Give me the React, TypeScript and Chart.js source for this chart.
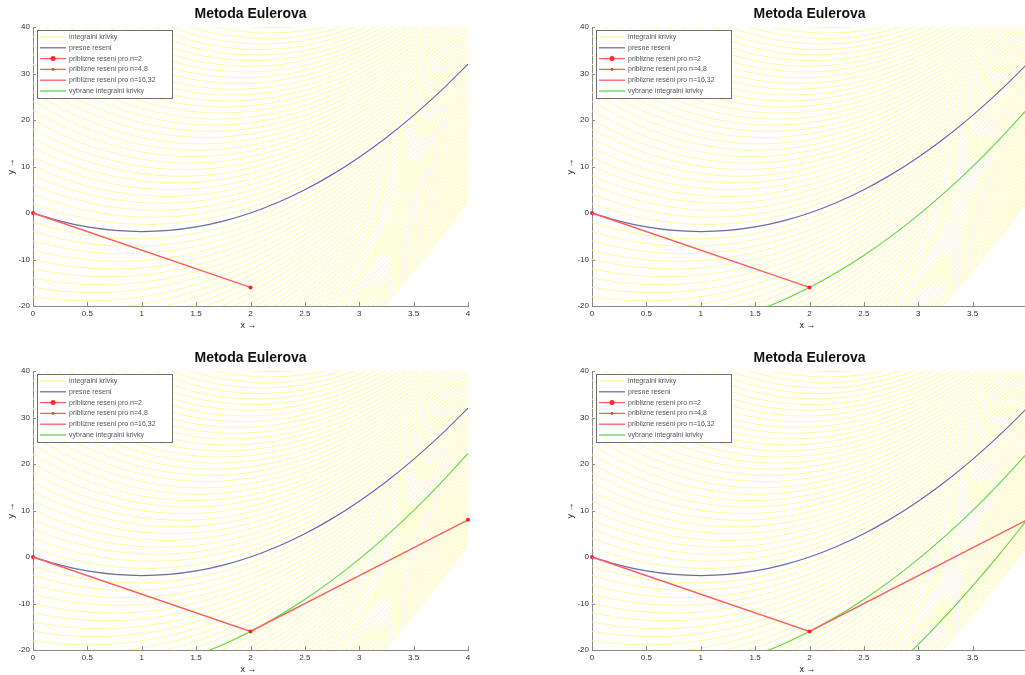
import React, { useEffect, useRef } from "react";
import { Chart, registerables } from "chart.js";

Chart.register(...registerables);

// Sample abscissae shared by every curve
const xGrid = [0, 0.25, 0.5, 0.75, 1, 1.25, 1.5, 1.75, 2, 2.25, 2.5, 2.75, 3, 3.25, 3.5, 3.75, 4];
// Exact solution through (0, 0)
const exactY = [0, -1.75, -3, -3.75, -4, -3.75, -3, -1.75, 0, 2.25, 5, 8.25, 12, 16.25, 21, 26.25, 32];
// How much of an initial offset at x = 0 is still left at each sample
const offsetCarry = [1, 0.939, 0.882, 0.829, 0.779, 0.732, 0.687, 0.646, 0.607, 0.570, 0.535, 0.503, 0.472, 0.444, 0.417, 0.392, 0.368];
// Starting values (at x = 0) of the yellow family of integral curves
const fieldStarts = [
  -80, -78, -76, -74, -72, -70, -68, -66, -64, -62, -60, -58, -56, -54, -52, -50, -48, -46, -44, -42,
  -40, -38, -36, -34, -32, -30, -28, -26, -24, -22, -20, -18, -16, -14, -12, -10, -8, -6, -4, -2,
  0, 2, 4, 6, 8, 10, 12, 14, 16, 18, 20, 22, 24, 26, 28, 30, 32, 34, 36, 38,
  40, 42, 44, 46, 48, 50, 52, 54, 56, 58, 60, 62, 64, 66, 68, 70, 72, 74, 76, 78,
  80, 82, 84, 86, 88, 90, 92, 94, 96, 98, 100,
];
// Starting values of the highlighted integral curves (through the Euler nodes)
const pickedStarts = [-26.4, -65.2];
// Euler nodes for n = 2
const eulerX = [0, 2, 4];
const eulerY = [0, -16, 8];
// Axis ticks
const xTicks = [0, 0.5, 1, 1.5, 2, 2.5, 3, 3.5, 4];
const yTicks = [-20, -10, 0, 10, 20, 30, 40];
const xLabels = ["0", "0.5", "1", "1.5", "2", "2.5", "3", "3.5", "4"];
const yLabels = ["-20", "-10", "0", "10", "20", "30", "40"];
const titleText = "Metoda Eulerova";
const xTitle = "x \u2192";
const yTitle = "y \u2192";
const legendLabels = [
  "integralni krivky",
  "presne reseni",
  "priblizne reseni pro n=2",
  "priblizne reseni pro n=4,8",
  "priblizne reseni pro n=16,32",
  "vybrane integralni krivky",
];

// Which Euler nodes / highlighted curves each panel shows
const panelEulerCount = [2, 2, 3, 3];
const panelPickedCount = [0, 1, 1, 2];

const YELLOW = "#fff88e";
const EXACT = "#6c6ca6";
const RED = "#ff5f5f";
const GREEN = "#5ed84a";
const AXIS = "#8a8a8a";
const FONT = "'Liberation Sans', Arial, Helvetica, sans-serif";

const CW = 560;
const CH = 344;

const curve = (start: number) =>
  xGrid.map((x, i) => ({ x, y: exactY[i] + start * offsetCarry[i] }));

const legendStyles = [
  { color: YELLOW, marker: 0 },
  { color: EXACT, marker: 0 },
  { color: RED, marker: 2.5 },
  { color: RED, marker: 1.3 },
  { color: RED, marker: 0 },
  { color: GREEN, marker: 0 },
];

const decorPlugin = {
  id: "decor",
  afterDatasetsDraw(chart: any) {
    const { ctx, chartArea: a, scales } = chart;
    ctx.save();
    // inward tick marks
    ctx.strokeStyle = AXIS;
    ctx.lineWidth = 1;
    ctx.beginPath();
    xTicks.forEach((v) => {
      const px = Math.round(scales.x.getPixelForValue(v)) + 0.5;
      ctx.moveTo(px, a.bottom);
      ctx.lineTo(px, a.bottom - 4);
    });
    yTicks.forEach((v) => {
      const py = Math.round(scales.y.getPixelForValue(v)) + 0.5;
      ctx.moveTo(a.left, py);
      ctx.lineTo(a.left + 3, py);
    });
    ctx.stroke();

    // legend box
    const bx = a.left + 4;
    const by = a.top + 3;
    const bw = 135;
    const bh = 68;
    ctx.fillStyle = "#ffffff";
    ctx.fillRect(bx, by, bw, bh);
    ctx.strokeStyle = "#6f6f6f";
    ctx.strokeRect(bx + 0.5, by + 0.5, bw, bh);
    ctx.font = `7px ${FONT}`;
    ctx.textBaseline = "middle";
    ctx.textAlign = "left";
    legendLabels.forEach((label, i) => {
      const cy = by + 7 + i * 10.8;
      const st = legendStyles[i];
      ctx.strokeStyle = st.color;
      ctx.lineWidth = 1.3;
      ctx.beginPath();
      ctx.moveTo(bx + 3, cy);
      ctx.lineTo(bx + 29, cy);
      ctx.stroke();
      if (st.marker > 0) {
        ctx.fillStyle = "#ff2a2a";
        ctx.beginPath();
        ctx.arc(bx + 16, cy, st.marker, 0, Math.PI * 2);
        ctx.fill();
      }
      ctx.fillStyle = "#555";
      ctx.fillText(label, bx + 32, cy);
    });
    ctx.restore();
  },
  afterDraw(chart: any) {
    const { ctx, chartArea: a } = chart;
    ctx.save();
    ctx.fillStyle = "#111";
    ctx.textAlign = "center";
    ctx.textBaseline = "middle";
    ctx.font = `bold 14px ${FONT}`;
    ctx.fillText(titleText, (a.left + a.right) / 2, a.top - 13);
    ctx.font = `9px ${FONT}`;
    ctx.fillStyle = "#222";
    ctx.fillText(xTitle, (a.left + a.right) / 2 - 2, a.bottom + 20);
    ctx.translate(12, (a.top + a.bottom) / 2);
    ctx.rotate(-Math.PI / 2);
    ctx.fillText(yTitle, 0, 0);
    ctx.restore();
  },
};

function Panel({ index, left, top }: { index: number; left: number; top: number }) {
  const ref = useRef<HTMLCanvasElement | null>(null);

  useEffect(() => {
    if (!ref.current) return;
    const nEuler = panelEulerCount[index];
    const nPicked = panelPickedCount[index];

    const datasets: any[] = [];
    datasets.push({
      data: eulerX.slice(0, nEuler).map((x, i) => ({ x, y: eulerY[i] })),
      borderColor: RED,
      borderWidth: 1.4,
      pointRadius: 2,
      pointBackgroundColor: "#ff1f1f",
      pointBorderColor: "#ff1f1f",
      pointBorderWidth: 0,
      tension: 0,
      order: 0,
      clip: 4,
    });
    pickedStarts.slice(0, nPicked).forEach((s) => {
      datasets.push({
        data: curve(s),
        borderColor: GREEN,
        borderWidth: 1.1,
        pointRadius: 0,
        tension: 0.3,
        order: 1,
      });
    });
    datasets.push({
      data: curve(0),
      borderColor: EXACT,
      borderWidth: 1.2,
      pointRadius: 0,
      tension: 0.3,
      order: 2,
    });
    fieldStarts.forEach((s) => {
      datasets.push({
        data: curve(s),
        borderColor: YELLOW,
        borderWidth: 0.85,
        pointRadius: 0,
        tension: 0.3,
        order: 3,
      });
    });

    const chart = new Chart(ref.current, {
      type: "line",
      data: { datasets },
      options: {
        animation: false,
        responsive: false,
        events: [],
        layout: { padding: { top: 27, right: 92, left: 0, bottom: 0 } },
        plugins: { legend: { display: false }, tooltip: { enabled: false }, title: { display: false } },
        scales: {
          x: {
            type: "linear",
            min: 0,
            max: 4,
            grid: { display: false, drawTicks: false },
            border: { display: true, color: AXIS, width: 1 },
            afterBuildTicks: (s: any) => {
              s.ticks = xTicks.map((v) => ({ value: v }));
            },
            afterFit: (s: any) => {
              s.height = 38;
            },
            ticks: {
              padding: 3,
              autoSkip: false,
              maxRotation: 0,
              color: "#333",
              font: { family: FONT, size: 8 },
              callback: (v: any) => xLabels[xTicks.indexOf(Number(v))] ?? "",
            },
          },
          y: {
            type: "linear",
            min: -20,
            max: 40,
            grid: { display: false, drawTicks: false },
            border: { display: true, color: AXIS, width: 1 },
            afterBuildTicks: (s: any) => {
              s.ticks = yTicks.map((v) => ({ value: v }));
            },
            afterFit: (s: any) => {
              s.width = 33;
            },
            ticks: {
              padding: 3,
              autoSkip: false,
              color: "#333",
              font: { family: FONT, size: 8 },
              callback: (v: any) => yLabels[yTicks.indexOf(Number(v))] ?? "",
            },
          },
        },
      },
      plugins: [decorPlugin],
    });
    return () => chart.destroy();
  }, [index]);

  return (
    <div style={{ position: "absolute", left, top, width: CW, height: CH }}>
      <canvas ref={ref} width={CW} height={CH} style={{ width: CW, height: CH, display: "block" }} />
    </div>
  );
}

export default function App() {
  const spots = [
    { left: 0, top: 0 },
    { left: 559, top: 0 },
    { left: 0, top: 344 },
    { left: 559, top: 344 },
  ];
  return (
    <div
      style={{
        position: "fixed",
        left: 0,
        top: 0,
        width: 1025,
        height: 675,
        overflow: "hidden",
        background: "#ffffff",
      }}
    >
      {spots.map((p, i) => (
        <Panel key={i} index={i} left={p.left} top={p.top} />
      ))}
    </div>
  );
}
